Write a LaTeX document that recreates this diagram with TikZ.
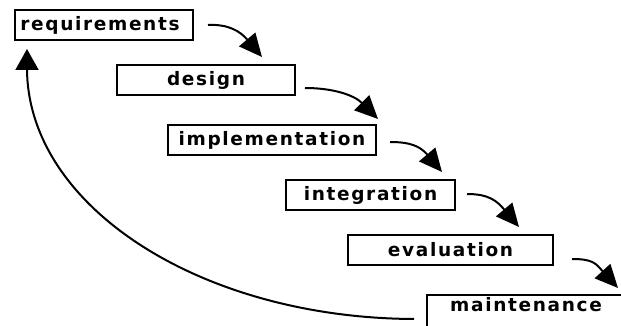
\documentclass[tikz,border=0pt]{standalone}
\usepackage{fontspec}
\newfontfamily\stagefont{DejaVu Sans}[LetterSpace=9]
\usetikzlibrary{arrows.meta,calc}
\begin{document}
\begin{tikzpicture}[x=1pt,y=-1pt,
  stage/.style={draw, line width=2pt, anchor=north west, inner sep=0pt,
    minimum height=30pt, font=\stagefont\bfseries\fontsize{18.5}{20}\selectfont},
  flow/.style={line width=2pt, -{Triangle[length=23pt,width=21pt]}},
  back/.style={line width=2pt, -{Triangle[length=21pt,width=23pt]}}]
\useasboundingbox (0,0) rectangle (621,326);
\clip (0,0) rectangle (621,326);

% the stages, one below and to the right of the other
\node[stage, minimum width=178pt] (req) at (14,9)  {requirements\hspace*{8pt}};
\node[stage, minimum width=178pt] (des) at (116,64) {design};
\node[stage, minimum width=208pt] (imp) at (167,124) {implementation};
\node[stage, minimum width=169pt] (int) at (285,179) {integration};
\node[stage, minimum width=205pt] (eva) at (347,234) {evaluation};
% the last box runs off the page on the right and bottom
\node[stage, minimum width=198pt, text height=16pt, text depth=32pt, minimum height=0pt]
  (mai) at (426,294) {maintenance};

% curved arrows from each stage down to the next
\draw[flow] ($(req.east)+(14,0)$) .. controls +(20,-1) and +(-22,-26) .. ($(des.north west)+(146,-7)$);
\draw[flow] ($(des.east)+(9,8)$) .. controls +(28,0) and +(-24,-24) .. ($(imp.north west)+(211,-5)$);
\draw[flow] ($(imp.east)+(13,2)$) .. controls +(20,0) and +(-22,-26) .. ($(int.north west)+(157,-7)$);
\draw[flow] ($(int.east)+(11,-1)$) .. controls +(22,0) and +(-22,-26) .. ($(eva.north west)+(172,-7)$);
\draw[flow] ($(eva.east)+(18,9)$) .. controls +(22,0) and +(-22,-24) .. ($(mai.north west)+(192,-6)$);

% feedback from maintenance back to requirements
\draw[back] ($(mai.west)+(-12,0)$) .. controls (200,318) and (27,206) .. (27,68)
  -- ($(req.south west)+(13,8)$);
\end{tikzpicture}
\end{document}
